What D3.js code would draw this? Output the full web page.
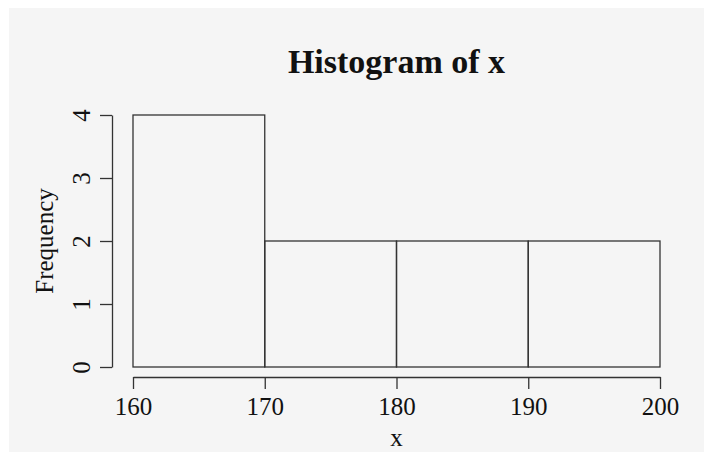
<!DOCTYPE html>
<html>
<head>
<meta charset="utf-8">
<script src="https://cdn.jsdelivr.net/npm/d3@7"></script>
<style>
  html, body { margin: 0; padding: 0; background: #fff; }
  svg { display: block; }
  text { font-family: "Liberation Serif", "DejaVu Serif", serif; fill: #111; }
</style>
</head>
<body>
<svg id="chart" width="704" height="452"></svg>
<script>
// histogram of x: bin edges and counts
const breaks = [160, 170, 180, 190, 200];
const counts = [4, 2, 2, 2];
const xTicks = [160, 170, 180, 190, 200];
const yTicks = [0, 1, 2, 3, 4];

const width = 704, height = 452;
const ink = "#333";

const svg = d3.select("#chart");

// panel background (the figure sits on a light grey card)
svg.append("rect")
    .attr("x", 9).attr("y", 8)
    .attr("width", width - 9).attr("height", height - 8)
    .attr("fill", "#f5f5f5");

const x = d3.scaleLinear().domain([160, 200]).range([133, 660]);
const y = d3.scaleLinear().domain([0, 4]).range([367, 115]);

const bins = counts.map((c, i) => ({ x0: breaks[i], x1: breaks[i + 1], count: c }));

// bars
svg.append("g")
    .selectAll("rect")
    .data(bins)
    .enter().append("rect")
    .attr("x", d => x(d.x0))
    .attr("y", d => y(d.count))
    .attr("width", d => x(d.x1) - x(d.x0))
    .attr("height", d => y(0) - y(d.count))
    .attr("fill", "none")
    .attr("stroke", ink)
    .attr("stroke-width", 1.3);

// x axis, R style: detached below the bars
const gx = svg.append("g")
    .attr("transform", "translate(0,377)")
    .call(d3.axisBottom(x).tickValues(xTicks).tickSize(12).tickSizeOuter(0).tickFormat(d3.format("d")));
gx.attr("font-family", null).attr("font-size", null);
gx.selectAll("path, line").attr("stroke", ink).attr("stroke-width", 1.3);
gx.selectAll("text")
    .attr("y", 38).attr("dy", 0)
    .style("font-size", "25px")
    .attr("fill", "#111");

// y axis with rotated labels
const gy = svg.append("g")
    .attr("transform", "translate(112,0)")
    .call(d3.axisLeft(y).tickValues(yTicks).tickSize(12).tickSizeOuter(0).tickFormat(d3.format("d")));
gy.attr("font-family", null).attr("font-size", null);
gy.selectAll("path, line").attr("stroke", ink).attr("stroke-width", 1.3);
gy.selectAll("text")
    .attr("x", 0).attr("y", 0).attr("dy", 0)
    .attr("transform", "translate(-22,0) rotate(-90)")
    .attr("text-anchor", "middle")
    .style("font-size", "25px")
    .attr("fill", "#111");

// title
svg.append("text")
    .attr("x", (x.range()[0] + x.range()[1]) / 2)
    .attr("y", 73)
    .attr("text-anchor", "middle")
    .style("font-size", "34px")
    .style("font-weight", "bold")
    .text("Histogram of x");

// axis titles
svg.append("text")
    .attr("x", (x.range()[0] + x.range()[1]) / 2)
    .attr("y", 446)
    .attr("text-anchor", "middle")
    .style("font-size", "25px")
    .text("x");

svg.append("text")
    .attr("transform", "translate(53," + ((y.range()[0] + y.range()[1]) / 2) + ") rotate(-90)")
    .attr("text-anchor", "middle")
    .style("font-size", "25px")
    .text("Frequency");
</script>
</body>
</html>
